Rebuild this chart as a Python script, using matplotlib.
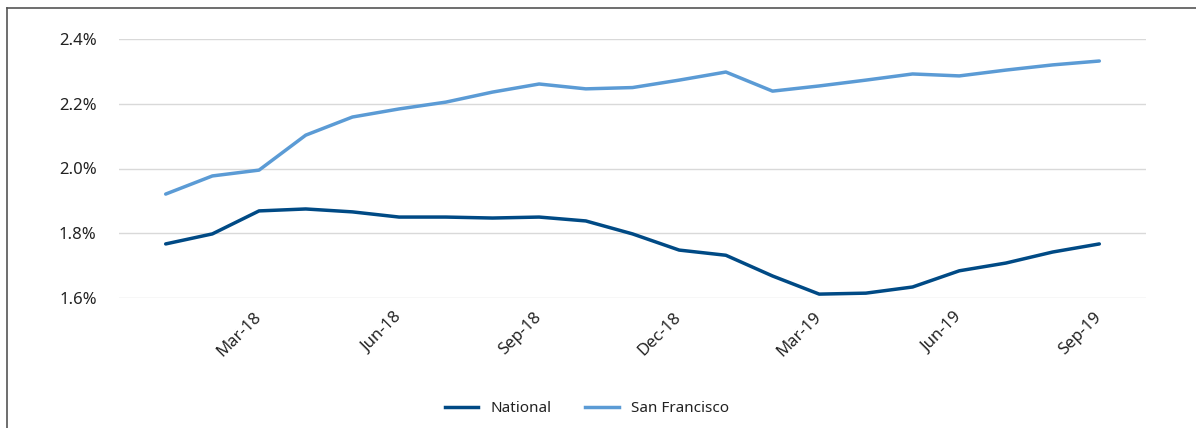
import matplotlib
matplotlib.use("Agg")
import matplotlib.pyplot as plt
import matplotlib.transforms as mtransforms
from matplotlib.lines import Line2D
from matplotlib.ticker import FuncFormatter

# monthly data Jan-18 .. Sep-19
months = ["Jan-18", "Feb-18", "Mar-18", "Apr-18", "May-18", "Jun-18", "Jul-18",
          "Aug-18", "Sep-18", "Oct-18", "Nov-18", "Dec-18", "Jan-19", "Feb-19",
          "Mar-19", "Apr-19", "May-19", "Jun-19", "Jul-19", "Aug-19", "Sep-19"]
national = [1.767, 1.798, 1.869, 1.875, 1.866, 1.850, 1.850, 1.847, 1.850, 1.838,
            1.798, 1.748, 1.732, 1.668, 1.612, 1.615, 1.634, 1.684, 1.708, 1.742, 1.767]
san_francisco = [1.921, 1.977, 1.995, 2.103, 2.159, 2.184, 2.205, 2.236, 2.261, 2.246,
                 2.250, 2.273, 2.298, 2.239, 2.255, 2.273, 2.292, 2.286, 2.304, 2.320, 2.332]
tick_labels = ["Mar-18", "Jun-18", "Sep-18", "Dec-18", "Mar-19", "Jun-19", "Sep-19"]

plt.rcParams['font.family'] = ['Noto Sans', 'DejaVu Sans']

fig = plt.figure(figsize=(11.96, 4.28), dpi=100)
ax = fig.add_axes([119 / 1196, 1 - 298 / 428, (1146 - 119) / 1196, (298 - 39) / 428])

x = list(range(len(months)))
ax.plot(x, national, color="#004A85", lw=2.5, label="National", solid_capstyle="round")
ax.plot(x, san_francisco, color="#5B9BD5", lw=2.5, label="San Francisco", solid_capstyle="round")

ax.set_xlim(-1, len(months))
ax.set_ylim(1.6, 2.4)
ax.set_yticks([1.6, 1.8, 2.0, 2.2, 2.4])
ax.yaxis.set_major_formatter(FuncFormatter(lambda v, p: f"{v:.1f}%"))
ax.set_xticks([months.index(m) for m in tick_labels])
ax.set_xticklabels(tick_labels, rotation=45, ha="right", rotation_mode="anchor")
ax.tick_params(axis="both", length=0, labelsize=12, colors="#222222")
ax.tick_params(axis="x", pad=8)
ax.tick_params(axis="y", pad=16)
shift = mtransforms.ScaledTranslation(-6 / 100, 0, fig.dpi_scale_trans)
for lbl in ax.get_xticklabels():
    lbl.set_transform(lbl.get_transform() + shift)
ax.grid(axis="y", color="#D9D9D9", lw=1)
ax.set_axisbelow(True)
for s in ax.spines.values():
    s.set_visible(False)

fig.legend(handles=[Line2D([], [], color="#004A85", lw=2.5),
                    Line2D([], [], color="#5B9BD5", lw=2.5)],
           labels=["National", "San Francisco"], loc="center", bbox_to_anchor=(587 / 1196, 1 - 409 / 428),
           ncol=2, frameon=False, fontsize=11, handlelength=2.2, columnspacing=2.2,
           labelcolor="#222222")

# outer frame (left and top)
fig.add_artist(Line2D([7 / 1196, 7 / 1196], [0, 1 - 8 / 428], color="#555555", lw=1.2))
fig.add_artist(Line2D([7 / 1196, 1], [1 - 8 / 428, 1 - 8 / 428], color="#555555", lw=1.2))

fig.savefig("out.png", dpi=100)
